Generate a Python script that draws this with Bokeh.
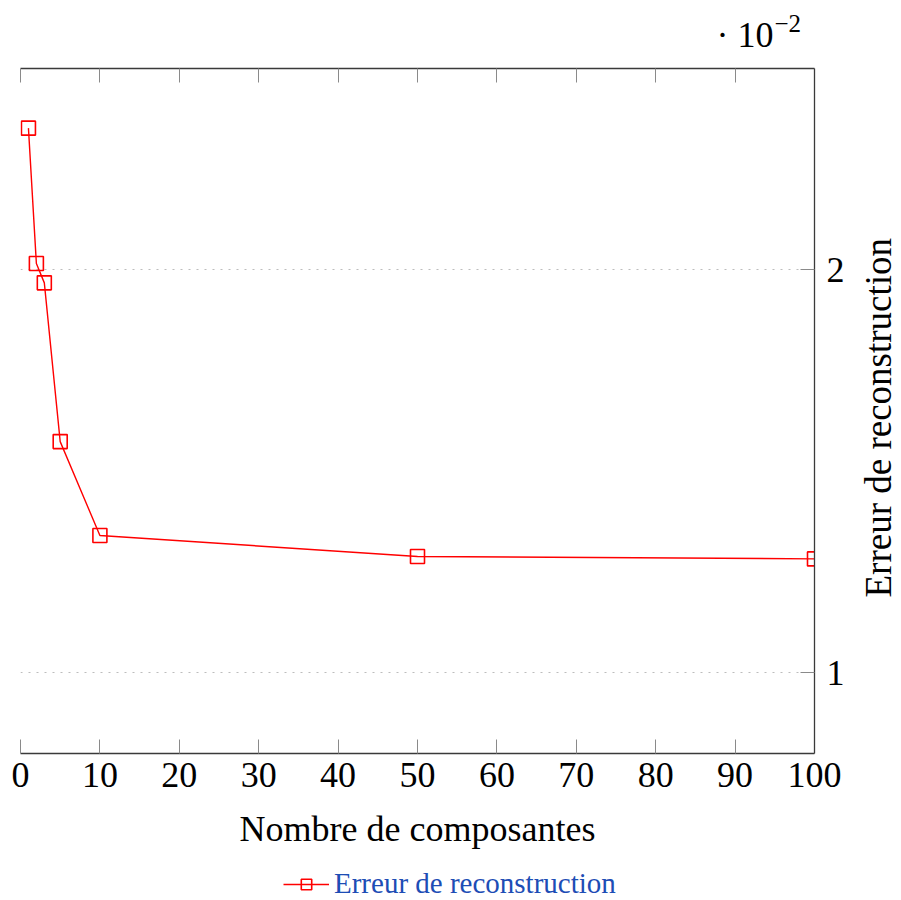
from bokeh.plotting import figure
from bokeh.layouts import row, column
from bokeh.models import (Range1d, LinearAxis, FixedTicker, CustomJSTickFormatter,
                          Legend, LegendItem, Label)
from bokeh.embed import file_html
from bokeh.resources import INLINE

# ---- data ----
composantes = [1, 2, 3, 5, 10, 50, 100]
erreur = [0.02352, 0.02016, 0.01968, 0.01574, 0.01341, 0.01289, 0.01283]
x_ticks = [0, 10, 20, 30, 40, 50, 60, 70, 80, 90, 100]
y_ticks = [0.01, 0.02]
x_title = "Nombre de composantes"
y_title = "Erreur de reconstruction"
series_name = "Erreur de reconstruction"
scale_base = "\u00b7 10"
scale_exp = "\u22122"

FONT = "Liberation Serif"
AXIS_COL = "#3a3a3a"
TICK_COL = "#8a8a8a"
RED = "#ff0000"

# ---- top strip: scale factor  ·10^-2 ----
t = figure(width=901, height=50, output_backend="svg", toolbar_location=None,
           title=None, x_range=Range1d(0, 901), y_range=Range1d(0, 50),
           x_axis_location=None, y_axis_location=None, min_border=0)
t.outline_line_color = None
t.xgrid.grid_line_color = None
t.ygrid.grid_line_color = None
t.add_layout(Label(x=773, y=16, text=scale_base, text_align="right",
                   text_baseline="alphabetic", text_font=FONT,
                   text_font_size="36px", text_color="black"))
t.add_layout(Label(x=774, y=27, text=scale_exp, text_align="left",
                   text_baseline="alphabetic", text_font=FONT,
                   text_font_size="25px", text_color="black"))

# ---- main plot ----
p = figure(width=855, height=814, output_backend="svg", toolbar_location=None,
           title=None, x_range=Range1d(0, 100), y_range=Range1d(0.008, 0.025),
           y_axis_location="right",
           min_border_left=20, min_border_right=41, min_border_top=18,
           min_border_bottom=111)
p.outline_line_color = None
p.background_fill_color = "white"
p.border_fill_color = "white"

xa = p.xaxis[0]
xa.ticker = FixedTicker(ticks=x_ticks)
xa.axis_label = x_title

ya = p.yaxis[0]
ya.ticker = FixedTicker(ticks=y_ticks)
ya.formatter = CustomJSTickFormatter(code="return (tick*100).toFixed(0);")

for ax in (xa, ya):
    ax.axis_line_color = AXIS_COL
    ax.axis_line_width = 1.3
    ax.major_tick_line_color = TICK_COL
    ax.major_tick_line_width = 1
    ax.major_tick_in = 14
    ax.major_tick_out = 0
    ax.minor_tick_line_color = None
    ax.major_label_text_font = FONT
    ax.major_label_text_font_size = "36px"
    ax.major_label_text_color = "black"
    ax.axis_label_text_font = FONT
    ax.axis_label_text_font_size = "36px"
    ax.axis_label_text_font_style = "normal"
    ax.axis_label_text_color = "black"

xa.major_label_standoff = 9
xa.axis_label_standoff = 19
ya.major_label_standoff = 12

# top mirror axis (ticks only)
top = LinearAxis(ticker=FixedTicker(ticks=x_ticks),
                 formatter=CustomJSTickFormatter(code="return '';"),
                 axis_line_color=AXIS_COL, axis_line_width=1.3,
                 major_tick_line_color=TICK_COL, major_tick_in=14, major_tick_out=0,
                 minor_tick_line_color=None, major_label_text_font_size="0px",
                 major_label_standoff=0)
p.add_layout(top, "above")

p.xgrid.grid_line_color = None
p.ygrid.ticker = FixedTicker(ticks=y_ticks)
p.ygrid.grid_line_color = "#bdbdbd"
p.ygrid.grid_line_dash = "2 6"
p.ygrid.grid_line_width = 1

p.line(composantes, erreur, line_color=RED, line_width=1.4)
p.scatter(composantes, erreur, marker="square", size=14, line_color=RED,
          fill_color=None, line_width=1.6)

# ---- companion figure with the y-axis title (reads bottom to top) ----
q = figure(width=46, height=814, output_backend="svg", toolbar_location=None,
           x_axis_location=None, y_axis_location=None,
           title=y_title, title_location="left",
           min_border_left=0, min_border_right=0, min_border_top=18,
           min_border_bottom=111)
q.outline_line_color = None
q.title.align = "left"
q.title.offset = 156
q.title.text_font = FONT
q.title.text_font_size = "37px"
q.title.text_font_style = "normal"
q.title.text_color = "black"
q.title.standoff = 0

# ---- legend strip below ----
r = figure(width=901, height=36, output_backend="svg", toolbar_location=None,
           x_range=Range1d(-1, 0), y_range=Range1d(-1, 0),
           x_axis_location=None, y_axis_location=None, min_border=0)
r.outline_line_color = None
r.xgrid.grid_line_color = None
r.ygrid.grid_line_color = None
lg_ln = r.line(composantes, erreur, line_color=RED, line_width=1.4)
lg_sc = r.scatter(composantes, erreur, marker="square", size=14, line_color=RED,
                  fill_color=None, line_width=1.6)
legend = Legend(items=[LegendItem(label=series_name, renderers=[lg_ln, lg_sc])],
                location=(283, 0), orientation="horizontal",
                label_text_font=FONT, label_text_font_size="29px",
                label_text_color="#1d4db5", glyph_width=46, glyph_height=26,
                label_standoff=5, padding=0, margin=0, spacing=0,
                border_line_color=None, background_fill_alpha=0)
r.add_layout(legend, "center")

layout = column(t, row(p, q), r)
open("out.html", "w").write(file_html(layout, INLINE))
